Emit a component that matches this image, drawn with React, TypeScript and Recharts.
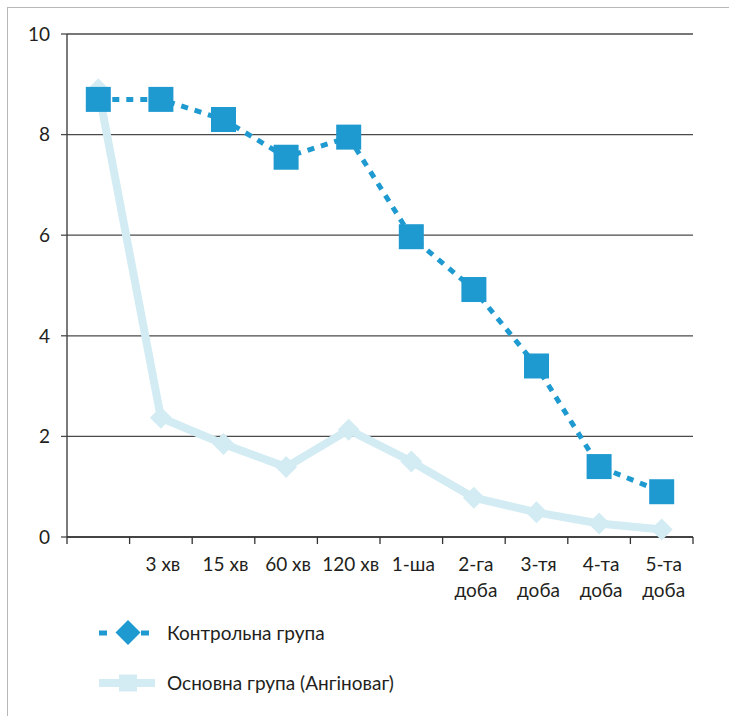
import React from 'react';
import { LineChart, Line, XAxis, YAxis, CartesianGrid } from 'recharts';

const categories = ["", "3 хв", "15 хв", "60 хв", "120 хв", "1-ша", "2-га\nдоба", "3-тя\nдоба", "4-та\nдоба", "5-та\nдоба"];
const controlGroup = [8.7, 8.7, 8.3, 7.55, 7.95, 5.97, 4.92, 3.4, 1.4, 0.9];
const mainGroup = [8.9, 2.37, 1.85, 1.39, 2.13, 1.5, 0.78, 0.49, 0.27, 0.15];
const yTicks = [0, 2, 4, 6, 8, 10];
const seriesNames = ["Контрольна група", "Основна група (Ангіноваг)"];

const CONTROL = '#1e9ad0';
const MAIN = '#d3ecf3';
const TEXT = '#231f20';
const FONT = 'Lato, "Open Sans", sans-serif';

const data = categories.map((c, i) => ({ pos: i + 0.5, label: c, control: controlGroup[i], main: mainGroup[i] }));
const boundaryTicks = categories.map((_, i) => i).concat(categories.length);
const centerTicks = categories.map((_, i) => i + 0.5);

const SquareDot = (props: any) => {
  const { cx, cy } = props;
  if (cx == null || cy == null) return null;
  return <rect x={cx - 12.5} y={cy - 12.5} width={25} height={25} fill={CONTROL} />;
};

const DiamondDot = (props: any) => {
  const { cx, cy } = props;
  if (cx == null || cy == null) return null;
  const r = 11;
  return <polygon points={`${cx},${cy - r} ${cx + r},${cy} ${cx},${cy + r} ${cx - r},${cy}`} fill={MAIN} />;
};

const CategoryTick = (props: any) => {
  const { x, y, payload } = props;
  const idx = Math.floor(payload.value);
  const lines = (categories[idx] || '').split('\n');
  return (
    <text x={x} y={y} textAnchor="middle" fill={TEXT} fontSize={19} fontFamily={FONT}>
      {lines.map((l, i) => (
        <tspan key={i} x={x + 2} dy={i === 0 ? 27 : 26}>{l}</tspan>
      ))}
    </text>
  );
};

export default function App() {
  return (
    <div style={{ position: 'absolute', left: 0, top: 0, width: 729, height: 716, background: '#fff', fontFamily: FONT }}>
      <div style={{ position: 'absolute', left: 6.5, top: 6.5, width: 723, height: 710, borderLeft: '1.5px solid #b8b8b8', borderTop: '1.5px solid #b8b8b8' }} />
      <div style={{ position: 'absolute', left: 0, top: 0 }}>
        <LineChart width={729} height={716} data={data} margin={{ top: 34, right: 36, left: 0, bottom: 112 }}>
          <CartesianGrid xAxisId="a" horizontal={true} vertical={false} stroke="#4a4a4a" strokeWidth={1.3} />
          <YAxis
            type="number"
            domain={[0, 10]}
            ticks={yTicks}
            width={67}
            tickSize={6}
            tickMargin={11}
            stroke="#333"
            axisLine={{ stroke: '#333', strokeWidth: 1.3 }}
            tickLine={{ stroke: '#4a4a4a', strokeWidth: 1.3 }}
            tick={{ fill: TEXT, fontSize: 19, fontFamily: FONT }}
            interval={0}
          />
          <XAxis
            xAxisId="a"
            dataKey="pos"
            type="number"
            domain={[0, 10]}
            ticks={boundaryTicks}
            interval={0}
            height={7}
            tickSize={7}
            tickFormatter={() => ''}
            axisLine={{ stroke: '#333', strokeWidth: 1.3 }}
            tickLine={{ stroke: '#333', strokeWidth: 1.3 }}
          />
          <XAxis
            xAxisId="b"
            dataKey="pos"
            type="number"
            domain={[0, 10]}
            ticks={centerTicks}
            interval={0}
            height={60}
            tickSize={0}
            tickMargin={0}
            axisLine={false}
            tickLine={false}
            tick={<CategoryTick />}
          />
          <Line
            xAxisId="a"
            type="linear"
            dataKey="main"
            name={seriesNames[1]}
            stroke={MAIN}
            strokeWidth={8}
            dot={<DiamondDot />}
            activeDot={false}
            isAnimationActive={false}
          />
          <Line
            xAxisId="a"
            type="linear"
            dataKey="control"
            name={seriesNames[0]}
            stroke={CONTROL}
            strokeWidth={5}
            strokeDasharray="7 7"
            dot={<SquareDot />}
            activeDot={false}
            isAnimationActive={false}
          />
        </LineChart>
      </div>
      <svg style={{ position: 'absolute', left: 0, top: 0 }} width={729} height={716}>
        <g>
          <line x1={99} y1={633} x2={155} y2={633} stroke={CONTROL} strokeWidth={5} strokeDasharray="8 13" />
          <polygon points={`128,620 140.5,632.5 128,645 115.5,632.5`} fill={CONTROL} />
          <text x={167} y={633} dy="0.35em" fill={TEXT} fontSize={19} fontFamily={FONT}>{seriesNames[0]}</text>
        </g>
        <g>
          <line x1={99} y1={683} x2={155} y2={683} stroke={MAIN} strokeWidth={8} />
          <rect x={119} y={674.5} width={18} height={17} fill={MAIN} />
          <text x={167} y={683} dy="0.35em" fill={TEXT} fontSize={19} fontFamily={FONT}>{seriesNames[1]}</text>
        </g>
      </svg>
    </div>
  );
}
